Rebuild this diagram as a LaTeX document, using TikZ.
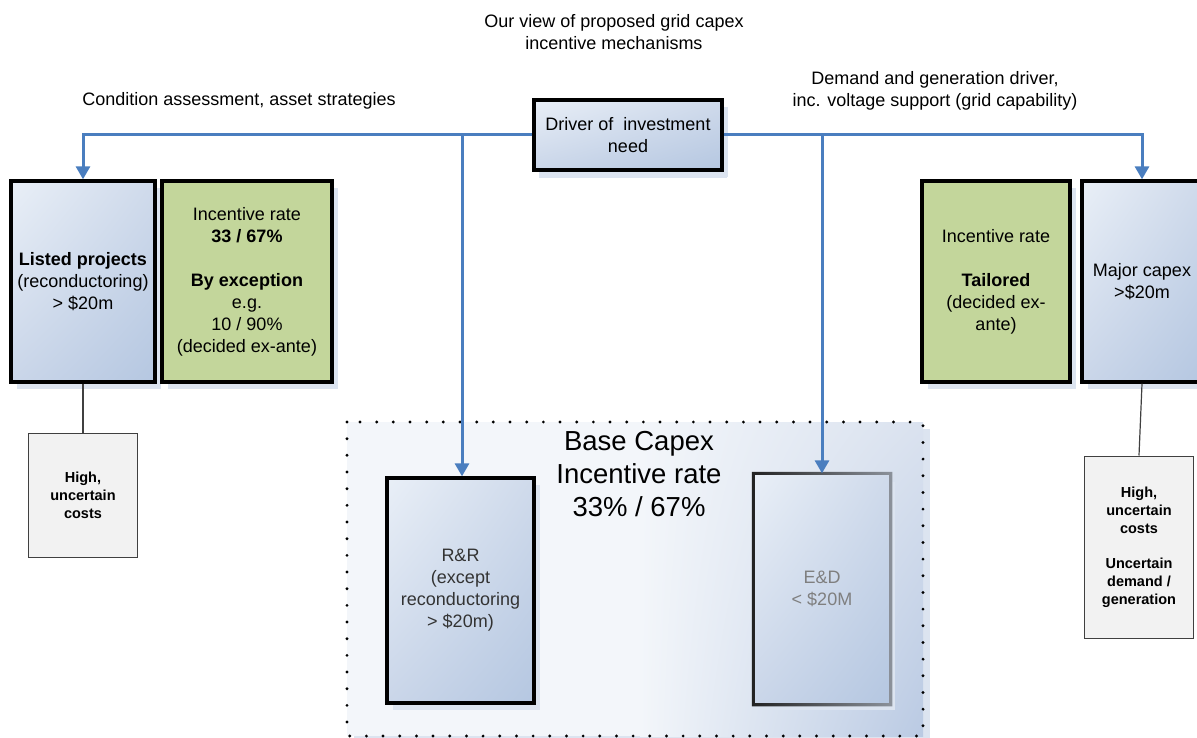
\documentclass[tikz,border=0pt]{standalone}
\usepackage{fontspec}
\setmainfont{Liberation Sans}
\usetikzlibrary{arrows.meta,shadows,shadings,calc}
\definecolor{linkblue}{HTML}{4A7EBF}
\definecolor{shadowblue}{HTML}{DCE4F0}
\definecolor{greenfill}{HTML}{C3D69B}
\definecolor{bA}{HTML}{E9EFF7}
\definecolor{bB}{HTML}{CFDAEB}
\definecolor{bC}{HTML}{CAD6E9}
\definecolor{bD}{HTML}{B5C7E1}
\definecolor{rA}{HTML}{F3F6FA}
\definecolor{rB}{HTML}{DAE2EF}
\definecolor{rD}{HTML}{BACAE3}
\definecolor{grayfill}{HTML}{F2F2F2}
\definecolor{grayline}{HTML}{404040}
\definecolor{darktext}{HTML}{333333}
\definecolor{lighttext}{HTML}{7F7F7F}
\definecolor{edleft}{HTML}{222222}
\definecolor{edright}{HTML}{8C929B}
\begin{document}
\begin{tikzpicture}[x=1pt,y=-1pt,
  boxshadow/.style={general shadow={fill=shadowblue, shadow xshift=6pt, shadow yshift=-7pt}},
  bluebox/.style={draw=black, line width=3.3pt, shade, upper left=bA, upper right=bB, lower left=bC, lower right=bD,
    boxshadow, align=center, font=\fontsize{18}{22}\selectfont, inner sep=2pt},
  greenbox/.style={draw=black, line width=3.3pt, fill=greenfill, boxshadow, align=center,
    font=\fontsize{18}{22}\selectfont, inner sep=2pt},
  graybox/.style={draw=grayline, line width=1pt, fill=grayfill, align=center,
    font=\fontsize{14.5}{18}\selectfont\bfseries, inner sep=2pt},
  plaintext/.style={align=center, font=\fontsize{18}{22}\selectfont, inner sep=0pt},
  bluelink/.style={draw=linkblue, line width=3pt, -{Triangle[width=14pt,length=13pt]}},
  graylink/.style={draw=grayline, line width=1.2pt},
  dotborder/.style={draw=black, line width=3.2pt, line cap=round, dash pattern=on 0pt off 16.67pt}
]
\useasboundingbox (0,0) rectangle (1197,738);

% base capex region
\node (region) [minimum width=576pt, minimum height=314pt, inner sep=0pt, outer sep=0pt,
  fill=rA, general shadow={fill=shadowblue, shadow xshift=7pt, shadow yshift=-7pt}] at (635,579) {};
\shade[upper left=rA, lower left=rA, upper right=rB, lower right=rD]
  (region.north west -| 640,0) rectangle (region.south east);
\draw[dotborder] (region.north west) rectangle (region.south east);
\node (basetxt) [plaintext, font=\fontsize{27.5}{33}\selectfont] at (639,474) {Base Capex\\Incentive rate\\33\% / 67\%};

% texts
\node (title) [plaintext] at (614,32) {Our view of proposed grid capex\\incentive mechanisms};
\node (cond) [plaintext, anchor=base] at (239,106) {Condition assessment, asset strategies};
\node (demand) [plaintext] at (935,90.5) {Demand and generation driver,\\inc. voltage support (grid capability)};

% boxes
\node (driver) [bluebox, minimum width=188pt, minimum height=70pt, general shadow={fill=shadowblue, shadow xshift=5pt, shadow yshift=-8pt}] at (628,135) {Driver of~~investment\\need};
\node (lp) [bluebox, minimum width=144pt, minimum height=201pt] at (83,281.5) {\textbf{Listed projects}\\(reconductoring)\\> \$20m};
\node (lg) [greenbox, minimum width=170pt, minimum height=201pt] at (247,281.5) {Incentive rate\\\textbf{33 / 67\%}\\[22pt]\textbf{By exception}\\e.g.\\10 / 90\%\\(decided ex-ante)};
\node (rg) [greenbox, minimum width=148pt, minimum height=201pt] at (996,281.5) {Incentive rate\\[22pt]\textbf{Tailored}\\(decided ex-\\ante)};
\node (mc) [bluebox, minimum width=120pt, minimum height=201pt] at (1142,281.5) {Major capex\\>\$20m};

\node (hc1) [graybox, minimum width=109pt, minimum height=124pt] at (83,495) {High,\\uncertain\\costs};
\node (hc2) [graybox, minimum width=109pt, minimum height=182pt] at (1139,547) {High,\\uncertain\\costs\\[17pt]Uncertain\\demand /\\generation};

\node (rr) [bluebox, text=darktext, minimum width=147pt, minimum height=225pt] at (460.5,590.5) {R\&R\\(except\\reconductoring\\> \$20m)};
\node (ed) [bluebox, draw=none, text=lighttext, minimum width=134pt, minimum height=228pt] at (822,589) {E\&D\\< \$20M};
\shade[left color=edleft, right color=edright, even odd rule]
  ($(ed.north west)+(-1.6,-1.6)$) rectangle ($(ed.south east)+(1.6,1.6)$)
  ($(ed.north west)+(1.6,1.6)$) rectangle ($(ed.south east)+(-1.6,-1.6)$);

% connectors
\coordinate (jl) at (462,135);
\coordinate (jr) at (822,135);
\draw[bluelink] (driver.west) -| (lp.north);
\draw[bluelink] (driver.east) -| (mc.north);
\draw[bluelink] (jl) -- (jl |- rr.north);
\draw[bluelink] (jr) -- (ed.north);
\draw[graylink] (lp.south) -- (hc1.north);
\draw[graylink] (mc.south) -- (hc2.north);
\end{tikzpicture}
\end{document}
